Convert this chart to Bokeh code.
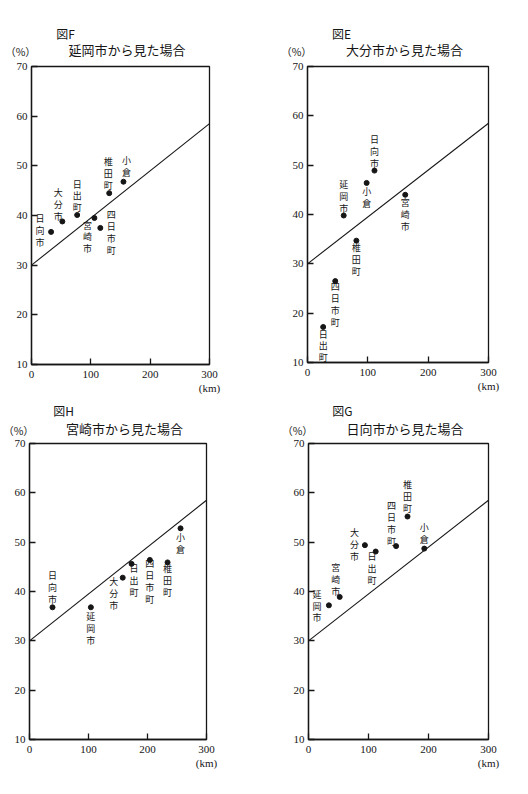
from bokeh.plotting import figure
from bokeh.layouts import column, row
from bokeh.models import ColumnDataSource, Label, Range1d
from bokeh.core.properties import value
from bokeh.embed import file_html
from bokeh.resources import INLINE

# Shared reference line (km, %)
line_km = [0, 300]
line_pct = [30.0, 58.5]

x_ticks = [0, 100, 200, 300]
y_ticks = [10, 20, 30, 40, 50, 60, 70]
x_unit_label = "(km)"
y_unit_label = "（%）"

# 図F: 延岡市から見た場合
f_tag = "図F"
f_title = "延岡市から見た場合"
f_names = ["日向市", "大分市", "日出町", "宮崎市", "四日市町", "椎田町", "小倉"]
f_km = [33, 52, 77, 106, 116, 131, 155]
f_pct = [36.7, 38.8, 40.1, 39.5, 37.5, 44.5, 46.8]

# 図E: 大分市から見た場合
e_tag = "図E"
e_title = "大分市から見た場合"
e_names = ["日向市", "小倉", "宮崎市", "延岡市", "椎田町", "四日市町", "日出町"]
e_km = [111, 98, 162, 60, 81, 46, 26]
e_pct = [48.9, 46.4, 44.0, 39.8, 34.7, 26.5, 17.2]

# 図H: 宮崎市から見た場合
h_tag = "図H"
h_title = "宮崎市から見た場合"
h_names = ["小倉", "日出町", "四日市町", "椎田町", "大分市", "日向市", "延岡市"]
h_km = [256, 173, 204, 234, 158, 39, 104]
h_pct = [52.8, 45.6, 46.4, 45.9, 42.8, 36.8, 36.8]

# 図G: 日向市から見た場合
g_tag = "図G"
g_title = "日向市から見た場合"
g_names = ["椎田町", "四日市町", "大分市", "日出町", "小倉", "宮崎市", "延岡市"]
g_km = [165, 146, 94, 112, 193, 52, 34]
g_pct = [55.2, 49.2, 49.4, 48.1, 48.7, 38.9, 37.2]

# Label offsets from each dot, in pixels (x right, y down)
f_dx = [-11, -4, 0, -7, 11, -1, 3]
f_dy = [-1, -17, -19, 19, 5, -20, -15]
e_dx = [0, 0, 0, 0, 0, 0, 0]
e_dy = [-19.5, 15, 20, -19, 19, 23, 19]
h_dx = [0, 2.5, 0, 0, -9, 0, 0]
h_dy = [15, 17, 22, 18, 16, -20, 21]
g_dx = [0, -4.7, -10.5, -3.6, 0, -4, -12]
g_dy = [-20, -23, -1, 17, -15, -17, 0.7]

INK = "#161616"
JP = "Noto Sans CJK JP"
NUM = "Liberation Serif"
CELL_W = 264


def panel(names, km, pct, dx, dy, left, top, fw, fh, bottom):
    """Scatter panel; `top` is the border above the frame inside this figure."""
    p = figure(
        frame_width=fw, frame_height=fh,
        min_border_left=left, min_border_top=top,
        min_border_right=CELL_W - left - fw, min_border_bottom=bottom,
        x_range=Range1d(0, 300), y_range=Range1d(10, 70),
        output_backend="svg", toolbar_location=None,
    )
    p.grid.visible = False
    p.outline_line_color = INK
    p.outline_line_width = 1.3
    p.outline_line_alpha = 1.0

    for ax in (p.xaxis[0], p.yaxis[0]):
        ax.axis_line_color = INK
        ax.axis_line_width = 1.3
        ax.major_tick_line_color = INK
        ax.major_tick_line_width = 1.3
        ax.major_tick_in = 6
        ax.major_tick_out = 0
        ax.minor_tick_line_color = None
        ax.major_label_text_font = NUM
        ax.major_label_text_font_size = "11px"
        ax.major_label_text_color = INK
    p.xaxis.ticker = x_ticks
    p.yaxis.ticker = y_ticks
    p.xaxis.major_label_standoff = 3
    p.yaxis.major_label_standoff = 4
    p.xaxis.major_label_overrides = {300: "300\n" + x_unit_label}

    p.line(line_km, line_pct, line_color=INK, line_width=1.1)

    src = ColumnDataSource(dict(
        km=km, pct=pct, label=["\n".join(n) for n in names], dx=dx, dy=dy,
    ))
    p.scatter("km", "pct", source=src, size=5, color=INK)
    p.text("km", "pct", text="label", x_offset="dx", y_offset="dy", source=src,
           text_align="center", text_baseline="middle",
           text_font=value(JP), text_font_size="9px", text_line_height=0.92,
           text_color=INK)
    return p


def header(tag, title, left, fw, height, y_tag):
    """Strip above a panel holding its figure tag, unit and title.
    The unit and title sit on the strip's bottom edge."""
    h = figure(width=CELL_W, height=height, min_border=0,
               x_axis_type=None, y_axis_type=None,
               x_range=Range1d(0, 1), y_range=Range1d(0, 1),
               output_backend="svg", toolbar_location=None)
    h.grid.visible = False
    h.outline_line_color = None
    items = [
        (left + 34, y_tag, tag, "12px", "middle"),
        (left - 11, 0.5, y_unit_label, "10.5px", "bottom"),
        (left + fw / 2 + 6.5, 0.5, title, "13px", "bottom"),
    ]
    for x, y, text, size, base in items:
        h.add_layout(Label(x=x, y=y, x_units="screen", y_units="screen",
                           text=text, text_font=JP, text_font_size=size,
                           text_align="center", text_baseline=base,
                           text_color=INK))
    return h


hF = header(f_tag, f_title, 31, 178, 59, 26)
hE = header(e_tag, e_title, 43, 181, 59, 26)
pF = panel(f_names, f_km, f_pct, f_dx, f_dy, 31, 5, 178, 298, 34)
pE = panel(e_names, e_km, e_pct, e_dx, e_dy, 43, 7, 181, 296, 34)

hH = header(h_tag, h_title, 29, 177, 42, 28)
hG = header(g_tag, g_title, 44, 180, 42, 28)
pH = panel(h_names, h_km, h_pct, h_dx, h_dy, 29, 5, 177, 296, 55)
pG = panel(g_names, g_km, g_pct, g_dx, g_dy, 44, 5, 180, 296, 55)

page = column(row(hF, hE), row(pF, pE), row(hH, hG), row(pH, pG))

open("out.html", "w").write(file_html(page, INLINE))
